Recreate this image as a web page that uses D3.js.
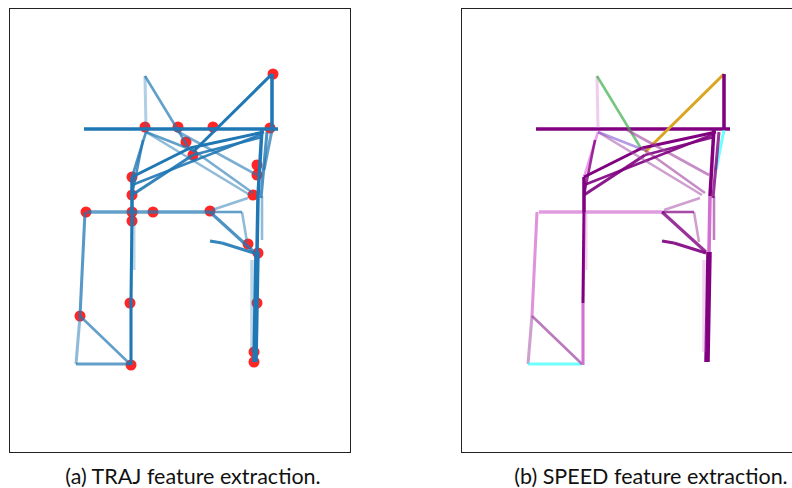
<!DOCTYPE html>
<html>
<head>
<meta charset="utf-8">
<script src="https://cdn.jsdelivr.net/npm/d3@7"></script>
<style>
  body { margin: 0; background: #fff; }
  svg { display: block; }
  .caption { font-family: Lato, "Open Sans", sans-serif; font-size: 21.5px; fill: #111; }
</style>
</head>
<body>
<div id="chart"></div>
<script>
// trajectory segments in canvas units: [x1, y1, x2, y2]
const segments = [
  [75, 121, 269, 121], [136, 68, 137, 120], [136, 68, 181, 142], [263, 66, 184, 144],
  [263, 66, 263, 122], [137, 124, 123, 169], [137, 124, 183, 142], [123, 169, 181, 140],
  [181, 140, 255, 124], [123, 187, 184, 147], [184, 147, 253, 129], [166, 122, 248, 167],
  [181, 140, 244, 185], [253, 120, 249, 188], [263, 122, 255, 162], [249, 188, 248, 244],
  [253, 188, 253, 232], [248, 244, 246, 354], [243, 252, 243, 344], [78, 204, 201, 204],
  [201, 204, 233, 204], [233, 204, 238, 234], [201, 204, 245, 244], [203, 202, 239, 190],
  [201, 233, 213, 235], [213, 235, 245, 245], [76, 204, 71, 308], [71, 308, 67, 356],
  [67, 356, 121, 356], [71, 308, 121, 356], [123, 169, 123, 204], [123, 204, 122, 295],
  [122, 295, 122, 357], [125, 204, 125, 262], [134, 132, 123, 187], [123, 177, 253, 126],
  [137, 124, 241, 187], [258, 124, 252, 190]
];
// how strongly each segment shows (TRAJ panel)
const segAlpha = [
  1, 0.35, 0.7, 1, 1, 0.8, 0.7, 1,
  1, 0.9, 0.9, 0.6, 0.6, 1, 0.7, 1,
  0.5, 1, 0.3, 0.7, 0.7, 0.5, 0.8, 0.5,
  0.9, 0.9, 0.75, 0.5, 0.7, 0.7, 1, 1,
  1, 0.3, 0.8, 0.9, 0.5, 0.8
];
// number of passes over each segment
const segWeight = [
  3, 2.5, 2, 2.5, 3, 2, 2, 2.5,
  2.5, 2.5, 2, 2, 2, 3, 2.5, 3,
  2, 5, 3, 3, 2, 2, 2.5, 2,
  2.5, 2.5, 2.5, 2.5, 2.5, 2, 3, 2.5,
  2.5, 2.5, 2, 2, 2, 2.5
];
// speed class of each segment (SPEED panel)
const segSpeed = [
  0, 2, 6, 7, 0, 3, 4, 0,
  0, 0, 0, 1, 1, 0, 5, 2,
  0, 0, 2, 2, 0, 1, 0, 1,
  0, 0, 2, 1, 5, 1, 0, 0,
  2, 2, 0, 0, 1, 0
];
// sampled key points
const keyPoints = [
  [264, 66], [136, 119], [169, 119], [204, 119], [261, 120], [177, 134], [184, 147],
  [123, 169], [123, 187], [77, 204], [123, 204], [144, 204], [201, 203], [123, 213],
  [248, 157], [248, 167], [244, 187], [239, 236], [249, 245], [121, 295], [71, 308],
  [122, 357], [248, 295], [245, 344], [245, 354]
];
const speedLevels = [0, 1, 2, 3, 4, 5, 6, 7];
const captions = ["(a) TRAJ feature extraction.", "(b) SPEED feature extraction."];

const width = 792, height = 488;
const panelW = 341, panelH = 444;
const panelX = [9, 461], panelY = 8;
const captionX = [193, 651], captionY = 484;

const speedColor = d3.scaleOrdinal()
  .domain(speedLevels)
  .range(["#800080", "#a0409f", "#d46fd2", "#ee82ee", "#9370db", "#33ffff", "#3cae48", "#daa520"]);
const strokeW = d3.scaleLinear().domain([1, 5]).range([1.6, 5.5]);

let svg = d3.select("#chart")
  .append("svg")
  .attr("width", width)
  .attr("height", height);

captions.forEach((cap, i) => {
  let x = d3.scaleLinear().domain([0, panelW]).range([panelX[i], panelX[i] + panelW]);
  let y = d3.scaleLinear().domain([0, panelH]).range([panelY, panelY + panelH]);

  let g = svg.append("g");

  g.append("rect")
    .attr("x", panelX[i] + 0.5)
    .attr("y", panelY + 0.5)
    .attr("width", panelW)
    .attr("height", panelH)
    .attr("fill", "none")
    .attr("stroke", "#222")
    .attr("stroke-width", 1);

  if (i === 0) {
    g.append("g")
      .selectAll("circle")
      .data(keyPoints)
      .enter().append("circle")
      .attr("cx", d => x(d[0]))
      .attr("cy", d => y(d[1]))
      .attr("r", 5.5)
      .attr("fill", "#ff0000")
      .attr("opacity", 0.85);
  }

  g.append("g")
    .selectAll("line")
    .data(segments)
    .enter().append("line")
    .attr("x1", d => x(d[0]))
    .attr("y1", d => y(d[1]))
    .attr("x2", d => x(d[2]))
    .attr("y2", d => y(d[3]))
    .attr("stroke", (d, j) => i === 0 ? "#1f77b4" : speedColor(segSpeed[j]))
    .attr("stroke-opacity", (d, j) => segAlpha[j])
    .attr("stroke-width", (d, j) => strokeW(segWeight[j]));

  svg.append("text")
    .attr("class", "caption")
    .attr("x", captionX[i])
    .attr("y", captionY)
    .attr("text-anchor", "middle")
    .text(cap);
});
</script>
</body>
</html>
